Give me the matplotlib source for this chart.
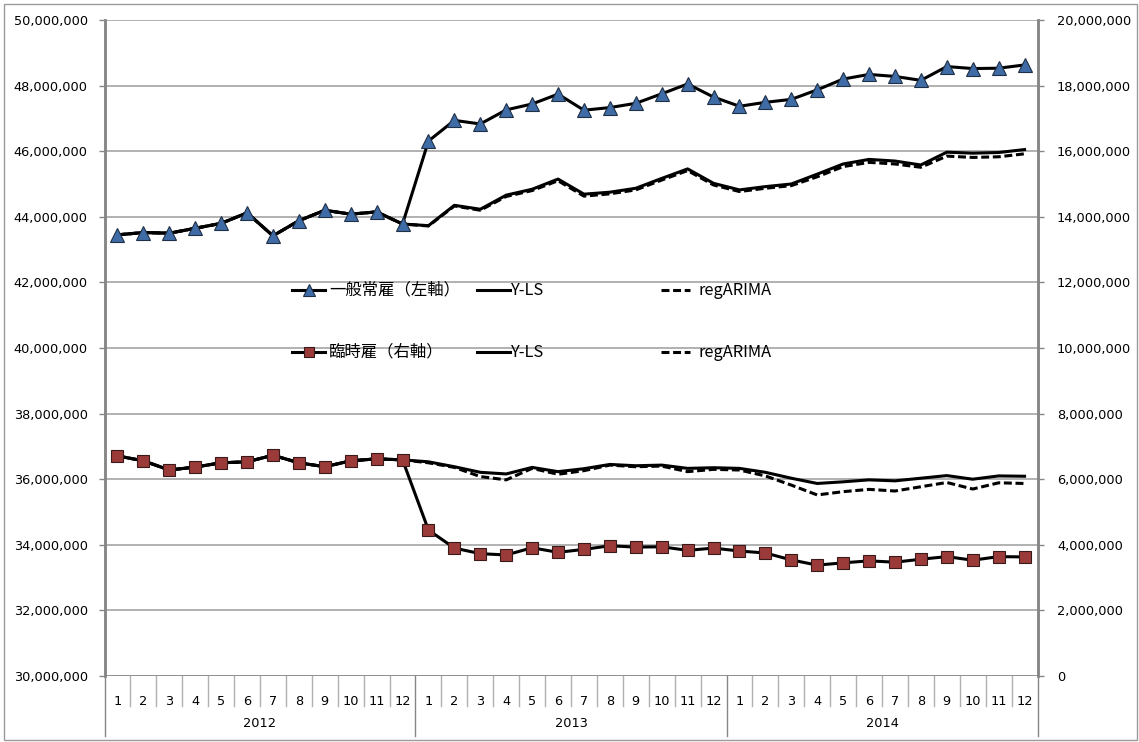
import numpy as np
import matplotlib
matplotlib.use("Agg")
import matplotlib.pyplot as plt
from matplotlib.lines import Line2D
from matplotlib.patches import Rectangle
from matplotlib.ticker import FuncFormatter, MultipleLocator

# values in millions of people
months = [str(m) for m in range(1, 13)] * 3
years = ["2012", "2013", "2014"]

regular = [43.45, 43.52, 43.50, 43.65, 43.80, 44.12, 43.42, 43.88, 44.20, 44.08, 44.15, 43.78,
           46.31, 46.94, 46.83, 47.26, 47.44, 47.74, 47.25, 47.33, 47.46, 47.75, 48.05, 47.65,
           47.37, 47.49, 47.58, 47.87, 48.20, 48.34, 48.28, 48.16, 48.58, 48.52, 48.53, 48.63]
regular_yls = [43.45, 43.52, 43.50, 43.65, 43.80, 44.12, 43.42, 43.88, 44.20, 44.08, 44.15, 43.78,
               43.73, 44.35, 44.23, 44.66, 44.84, 45.15, 44.69, 44.75, 44.87, 45.17, 45.46, 45.02,
               44.82, 44.92, 45.00, 45.30, 45.61, 45.75, 45.70, 45.58, 45.97, 45.94, 45.96, 46.05]
regular_arima = [43.45, 43.52, 43.50, 43.65, 43.80, 44.12, 43.42, 43.88, 44.20, 44.08, 44.15, 43.78,
                 43.72, 44.33, 44.20, 44.62, 44.80, 45.10, 44.63, 44.70, 44.82, 45.12, 45.41, 44.97,
                 44.77, 44.87, 44.95, 45.22, 45.53, 45.66, 45.61, 45.51, 45.85, 45.81, 45.83, 45.92]

temp = [6.71, 6.56, 6.28, 6.37, 6.50, 6.53, 6.73, 6.50, 6.38, 6.56, 6.62, 6.59,
        4.45, 3.90, 3.73, 3.69, 3.91, 3.77, 3.86, 3.97, 3.93, 3.94, 3.83, 3.90,
        3.81, 3.75, 3.54, 3.38, 3.45, 3.51, 3.47, 3.56, 3.64, 3.53, 3.64, 3.63]
temp_yls = [6.71, 6.56, 6.28, 6.37, 6.50, 6.53, 6.73, 6.50, 6.38, 6.56, 6.62, 6.59,
            6.53, 6.38, 6.21, 6.16, 6.36, 6.23, 6.32, 6.45, 6.41, 6.43, 6.33, 6.35,
            6.33, 6.21, 6.03, 5.87, 5.92, 5.98, 5.95, 6.03, 6.11, 6.00, 6.10, 6.09]
temp_arima = [6.71, 6.56, 6.28, 6.37, 6.50, 6.53, 6.73, 6.50, 6.38, 6.56, 6.62, 6.59,
              6.50, 6.36, 6.08, 5.98, 6.33, 6.15, 6.26, 6.43, 6.38, 6.40, 6.23, 6.30,
              6.28, 6.10, 5.82, 5.52, 5.62, 5.69, 5.64, 5.77, 5.90, 5.70, 5.89, 5.87]

tick_font = "DejaVu Sans"
jp_font = ["Noto Sans CJK JP", "DejaVu Sans"]
blue = "#3F6CA6"
red = "#9A3B39"
grid_col = "#ABABAB"
axis_col = "#868686"

W, H = 1139, 742
fig = plt.figure(figsize=(W / 100, H / 100), dpi=100)
ax = fig.add_axes([104.5 / W, 1 - 676 / H, 933 / W, 656 / H])
ax2 = ax.twinx()

x = np.arange(len(months))
scale = 1e6
lw = 2.2
dash = (0, (2.6, 1.2))

ax.plot(x, np.array(regular_arima) * scale, color="black", lw=lw, ls=dash, zorder=3)
ax.plot(x, np.array(regular_yls) * scale, color="black", lw=lw, zorder=3)
ax.plot(x, np.array(regular) * scale, color="black", lw=lw, marker="^", ms=10,
        mfc=blue, mec="#1F2F45", mew=0.8, zorder=4)

ax2.plot(x, np.array(temp_arima) * scale, color="black", lw=lw, ls=dash, zorder=3)
ax2.plot(x, np.array(temp_yls) * scale, color="black", lw=lw, zorder=3)
ax2.plot(x, np.array(temp) * scale, color="black", lw=lw, marker="s", ms=8.5,
         mfc=red, mec="#3A1A19", mew=0.8, zorder=4)

fmt = FuncFormatter(lambda v, p: f"{int(round(v)):,}")
ax.set_ylim(30e6, 50e6)
ax.yaxis.set_major_locator(MultipleLocator(2e6))
ax.yaxis.set_major_formatter(fmt)
ax2.set_ylim(0, 20e6)
ax2.yaxis.set_major_locator(MultipleLocator(2e6))
ax2.yaxis.set_major_formatter(fmt)
ax.set_xlim(-0.5, len(months) - 0.5)

ax.grid(axis="y", color=grid_col, lw=1.3)
ax.set_axisbelow(True)
for a in (ax, ax2):
    for s in ("top", "bottom"):
        a.spines[s].set_visible(False)
    a.spines["left"].set_color(axis_col)
    a.spines["right"].set_color(axis_col)
    a.spines["left"].set_linewidth(1.8)
    a.spines["right"].set_linewidth(1.8)
ax.axhline(30e6, color=axis_col, lw=1.8, zorder=2)

ax.tick_params(axis="y", length=4, width=1, color=axis_col, pad=8,
               labelsize=9.3, labelcolor="black")
ax2.tick_params(axis="y", length=4, width=1, color=axis_col, pad=10,
                labelsize=9.3, labelcolor="black")
for lab in ax.get_yticklabels() + ax2.get_yticklabels():
    lab.set_family(tick_font)

# month / year category labels
ax.set_xticks(x)
ax.set_xticklabels(months, fontsize=9.3, family=tick_font)
ax.tick_params(axis="x", length=0, pad=14)
trans = ax.get_xaxis_transform()
for b in np.arange(-0.5, len(months), 1.0):
    is_year = (b + 0.5) % 12 == 0
    ax.plot([b, b], [0, -0.091 if is_year else -0.046], color="#B0B0B0" if not is_year else axis_col,
            lw=1.0, transform=trans, clip_on=False)
for i, yr in enumerate(years):
    ax.text(i * 12 + 5.5, -0.072, yr, transform=trans, ha="center", va="center",
            fontsize=9.3, family=tick_font)

# legend, laid out like the spreadsheet one
def fx(px):
    return px / W


def fy(py):
    return 1 - py / H


rows = [
    (290, "^", 10, blue, "#1F2F45", "一般常雇（左軸）"),
    (352, "s", 8.5, red, "#3A1A19", "臨時雇（右軸）"),
]
leg_size = 11.8
for py, mk, ms, fc, ec, name in rows:
    fig.add_artist(Line2D([fx(292), fx(325)], [fy(py), fy(py)], color="black", lw=lw,
                          transform=fig.transFigure))
    fig.add_artist(Line2D([fx(308.5)], [fy(py)], marker=mk, ms=ms * 0.85, mfc=fc, mec=ec,
                          mew=0.8, transform=fig.transFigure))
    fig.text(fx(329), fy(py), name, ha="left", va="center", fontsize=leg_size, family=jp_font)
    fig.add_artist(Line2D([fx(477), fx(510)], [fy(py), fy(py)], color="black", lw=lw,
                          transform=fig.transFigure))
    fig.text(fx(511), fy(py), "Y-LS", ha="left", va="center", fontsize=leg_size, family=jp_font)
    fig.add_artist(Line2D([fx(661), fx(690)], [fy(py), fy(py)], color="black", lw=lw,
                          ls=dash, transform=fig.transFigure))
    fig.text(fx(698), fy(py), "regARIMA", ha="left", va="center", fontsize=leg_size, family=jp_font)

# chart border
fig.add_artist(Rectangle((fx(4), fy(740)), fx(1133), (736) / H, fill=False,
                         edgecolor="#9A9A9A", lw=1.0, transform=fig.transFigure))

fig.savefig("out.png", dpi=100, facecolor="white")
